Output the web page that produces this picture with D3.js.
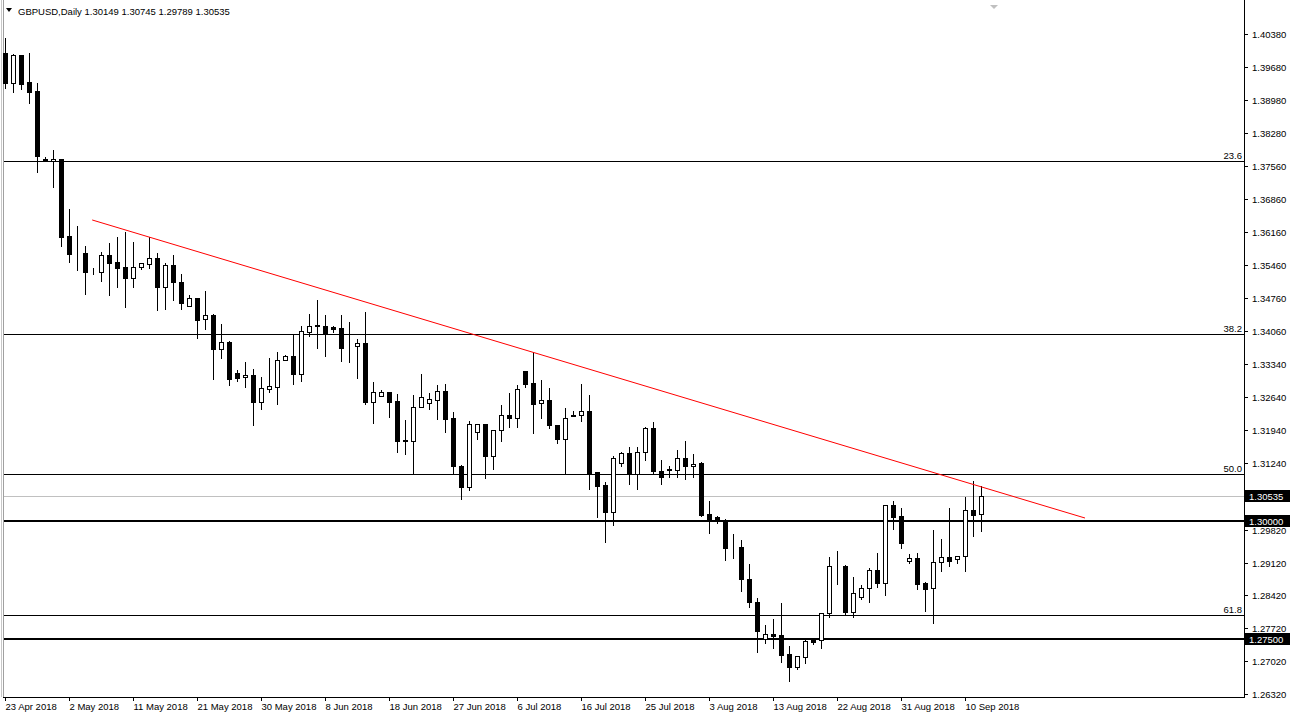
<!DOCTYPE html>
<html><head><meta charset="utf-8">
<script src="https://cdn.jsdelivr.net/npm/d3@7"></script>
<style>body{margin:0;background:#fff}svg{display:block}text{font-family:"Liberation Sans",Arial,sans-serif;font-size:9.5px}</style>
</head><body><svg id="c" width="1290" height="720"></svg>
<script>
const open=[1.3998,1.3934,1.3993,1.3936,1.3917,1.3772,1.3767,1.3772,1.3608,1.3572,1.3571,1.3532,1.3530,1.3567,1.3552,1.3542,1.3519,1.3542,1.3549,1.3560,1.3498,1.3545,1.3509,1.3459,1.3476,1.3430,1.3439,1.3368,1.3382,1.3315,1.3307,1.3311,1.3253,1.3282,1.3287,1.3343,1.3351,1.3314,1.3404,1.3418,1.3415,1.3414,1.3411,1.3372,1.3373,1.3380,1.3253,1.3266,1.3275,1.3256,1.3173,1.3170,1.3243,1.3251,1.3259,1.3277,1.3220,1.3118,1.3074,1.3190,1.3207,1.3140,1.3194,1.3226,1.3221,1.3320,1.3295,1.3251,1.3258,1.3205,1.3176,1.3226,1.3226,1.3234,1.3104,1.3077,1.3020,1.3125,1.3145,1.3101,1.3147,1.3198,1.3107,1.3111,1.3109,1.3134,1.3117,1.3124,1.3015,1.3009,1.3001,1.2944,1.2945,1.2877,1.2827,1.2749,1.2759,1.2758,1.2717,1.2690,1.2710,1.2746,1.2746,1.2804,1.2904,1.2904,1.2807,1.2838,1.2857,1.2896,1.2868,1.3034,1.3011,1.2915,1.2921,1.2868,1.2857,1.2913,1.2923,1.2920,1.2927,1.3025,1.30149];
const high=[1.4029,1.3995,1.3993,1.3998,1.3933,1.3777,1.3791,1.3772,1.3665,1.3629,1.3586,1.3539,1.3574,1.3592,1.3606,1.3616,1.3595,1.3550,1.3606,1.3571,1.3550,1.3567,1.3527,1.3481,1.3476,1.3491,1.3442,1.3420,1.3384,1.3322,1.3339,1.3324,1.3307,1.3348,1.3361,1.3354,1.3398,1.3416,1.3442,1.3471,1.3439,1.3416,1.3439,1.3424,1.3388,1.3446,1.3297,1.3280,1.3275,1.3271,1.3216,1.3269,1.3314,1.3273,1.3290,1.3292,1.3233,1.3120,1.3214,1.3207,1.3207,1.3194,1.3248,1.3273,1.3290,1.3320,1.3361,1.3301,1.3283,1.3205,1.3241,1.3235,1.3292,1.3269,1.3104,1.3083,1.3139,1.3148,1.3158,1.3158,1.3201,1.3212,1.3131,1.3118,1.3152,1.3172,1.3143,1.3126,1.3043,1.3011,1.3005,1.2973,1.2960,1.2910,1.2837,1.2779,1.2792,1.2825,1.2734,1.2712,1.2751,1.2748,1.2804,1.2923,1.2937,1.2907,1.2881,1.2864,1.2900,1.2932,1.3034,1.3043,1.3028,1.2930,1.2932,1.2871,1.2981,1.2962,1.3028,1.2927,1.3051,1.3086,1.30745];
const low=[1.3924,1.3915,1.3921,1.3892,1.3745,1.3767,1.3711,1.3587,1.3553,1.3536,1.3485,1.3527,1.3512,1.3483,1.3498,1.3457,1.3500,1.3538,1.3540,1.3449,1.3453,1.3472,1.3453,1.3459,1.3390,1.3410,1.3304,1.3348,1.3291,1.3299,1.3287,1.3204,1.3240,1.3276,1.3250,1.3343,1.3293,1.3299,1.3395,1.3370,1.3352,1.3403,1.3342,1.3340,1.3306,1.3250,1.3210,1.3266,1.3223,1.3148,1.3144,1.3101,1.3243,1.3239,1.3218,1.3191,1.3103,1.3048,1.3067,1.3176,1.3093,1.3112,1.3170,1.3201,1.3201,1.3285,1.3187,1.3221,1.3199,1.3167,1.3100,1.3224,1.3214,1.3068,1.3008,1.2956,1.2992,1.3118,1.3079,1.3069,1.3131,1.3102,1.3080,1.3095,1.3095,1.3089,1.3094,1.3012,1.2974,1.2997,1.2918,1.2922,1.2852,1.2817,1.2722,1.2740,1.2729,1.2701,1.2660,1.2685,1.2697,1.2739,1.2729,1.2797,1.2867,1.2800,1.2797,1.2835,1.2827,1.2861,1.2843,1.2984,1.2944,1.2912,1.2855,1.2809,1.2784,1.2895,1.2905,1.2912,1.2895,1.2969,1.29789];
const close=[1.3934,1.3993,1.3932,1.3915,1.3779,1.3767,1.3772,1.3606,1.3570,1.3571,1.3530,1.3531,1.3567,1.3551,1.3540,1.3519,1.3541,1.3550,1.3560,1.3498,1.3545,1.3509,1.3466,1.3476,1.3429,1.3439,1.3368,1.3381,1.3304,1.3306,1.3311,1.3253,1.3283,1.3288,1.3343,1.3351,1.3314,1.3405,1.3417,1.3415,1.3402,1.3410,1.3370,1.3371,1.3380,1.3253,1.3275,1.3275,1.3255,1.3172,1.3172,1.3243,1.3264,1.3260,1.3277,1.3218,1.3118,1.3074,1.3207,1.3207,1.3140,1.3194,1.3226,1.3221,1.3281,1.3293,1.3250,1.3258,1.3204,1.3176,1.3219,1.3225,1.3234,1.3103,1.3076,1.3020,1.3134,1.3145,1.3100,1.3147,1.3198,1.3106,1.3095,1.3110,1.3134,1.3117,1.3123,1.3013,1.3002,1.3003,1.2942,1.2943,1.2876,1.2827,1.2767,1.2759,1.2756,1.2716,1.2690,1.2712,1.2744,1.2743,1.2804,1.2904,1.2905,1.2807,1.2847,1.2857,1.2896,1.2868,1.3034,1.3010,1.2954,1.2921,1.2867,1.2856,1.2913,1.2923,1.2916,1.2927,1.3025,1.3014,1.30535];
const dateLabels=["23 Apr 2018","2 May 2018","11 May 2018","21 May 2018","30 May 2018","8 Jun 2018","18 Jun 2018","27 Jun 2018","6 Jul 2018","16 Jul 2018","25 Jul 2018","3 Aug 2018","13 Aug 2018","22 Aug 2018","31 Aug 2018","10 Sep 2018"];
const priceTicks=[1.40380,1.39680,1.38980,1.38280,1.37560,1.36860,1.36160,1.35460,1.34760,1.34060,1.33340,1.32640,1.31940,1.31240,1.30540,1.29820,1.29120,1.28420,1.27720,1.27020,1.26320];
const fibLevels=[1.37675,1.33989,1.31007,1.28003];
const fibNames=["23.6","38.2","50.0","61.8"];
const roundLevels=[1.30000,1.27500];
const trendIdx=[10.9,135];
const trendPrice=[1.36418,1.30069];
const current=1.30535;

const svg=d3.select("#c");
const x=d3.scaleLinear().domain([0,122]).range([5,981]);
const y=d3.scaleLinear().domain([1.2632,1.4038]).range([694,34]);
const R=1244,B=697;
const cx=i=>Math.round(x(i))+0.5, py=p=>Math.round(y(p))+0.5;

svg.append("line").attr("x1",3.5).attr("x2",3.5).attr("y1",0).attr("y2",B).attr("stroke","#a0a0a0");
svg.append("line").attr("x1",1.5).attr("x2",1.5).attr("y1",0).attr("y2",B).attr("stroke","#c8c8c8");
svg.append("line").attr("x1",R+0.5).attr("x2",R+0.5).attr("y1",0).attr("y2",B+0.5).attr("stroke","#000");
svg.append("line").attr("x1",3).attr("x2",R+1).attr("y1",B+0.5).attr("y2",B+0.5).attr("stroke","#000");

const g=svg.append("g").attr("shape-rendering","crispEdges");
fibLevels.forEach((p,k)=>{
 g.append("line").attr("x1",4).attr("x2",R).attr("y1",py(p)).attr("y2",py(p)).attr("stroke","#000");
 svg.append("text").attr("x",R-2).attr("y",py(p)-3).attr("text-anchor","end").text(fibNames[k]);
});
g.append("line").attr("x1",4).attr("x2",R).attr("y1",py(current)).attr("y2",py(current)).attr("stroke","#c0c0c0");
roundLevels.forEach(p=>{
 g.append("line").attr("x1",4).attr("x2",R).attr("y1",Math.round(y(p))).attr("y2",Math.round(y(p))).attr("stroke","#000").attr("stroke-width",2);
});
svg.append("line").attr("x1",x(trendIdx[0])).attr("x2",x(trendIdx[1])).attr("y1",y(trendPrice[0])).attr("y2",y(trendPrice[1])).attr("stroke","#ff0000");

const idx=d3.range(open.length);
g.selectAll(".w").data(idx).join("line").attr("x1",cx).attr("x2",cx).attr("y1",i=>Math.round(y(high[i]))).attr("y2",i=>Math.round(y(low[i]))+1).attr("stroke","#000");
g.selectAll(".b").data(idx).join("rect")
 .attr("x",i=>Math.round(x(i))-2+0.5).attr("width",4)
 .attr("y",i=>Math.round(y(Math.max(open[i],close[i])))+0.5)
 .attr("height",i=>Math.max(0,Math.round(y(Math.min(open[i],close[i])))-Math.round(y(Math.max(open[i],close[i])))))
 .attr("fill",i=>close[i]>=open[i]?"#fff":"#000").attr("stroke","#000");

const boxes=[current,...roundLevels];
priceTicks.forEach(p=>{
 const yy=Math.round(y(p))+0.5;
 g.append("line").attr("x1",R).attr("x2",R+4).attr("y1",yy).attr("y2",yy).attr("stroke","#000");
 if(boxes.some(b=>Math.abs(y(b)-y(p))<8 && Math.abs(y(b)-y(p))<3)) return;
 svg.append("text").attr("x",1252).attr("y",yy+3.5).text(p.toFixed(5));
});
boxes.forEach(p=>{
 const yy=Math.round(y(p));
 svg.append("rect").attr("x",R+1).attr("y",yy-6).attr("width",45).attr("height",12).attr("fill","#000");
 svg.append("text").attr("x",1249).attr("y",yy+3.5).attr("fill","#fff").text(p.toFixed(5));
});
dateLabels.forEach((t,k)=>{
 const xx=Math.round(x(k*8))+0.5;
 g.append("line").attr("x1",xx).attr("x2",xx).attr("y1",B).attr("y2",B+4).attr("stroke","#000");
 svg.append("text").attr("x",xx).attr("y",710).text(t);
});
svg.append("path").attr("d","M6,8 L12,8 L9,12 Z").attr("fill","#000");
svg.append("text").attr("x",18).attr("y",15).text("GBPUSD,Daily  1.30149 1.30745 1.29789 1.30535");
svg.append("path").attr("d","M990,5 L998,5 L994,9 Z").attr("fill","#c0c0c0");
</script></body></html>
